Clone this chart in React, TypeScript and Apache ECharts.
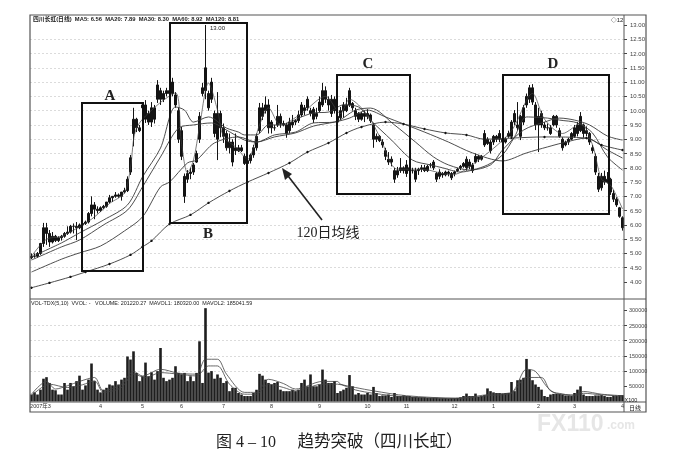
import React, { useEffect, useRef } from "react";
import * as echarts from "echarts";

const chartTitle = "四川长虹(日线)  MA5: 6.56  MA20: 7.89  MA30: 8.30  MA60: 8.92  MA120: 8.81";
const volumeTitle = "VOL-TDX(5,10)  VVOL: -   VOLUME: 201220.27  MAVOL1: 180320.00  MAVOL2: 185041.59";
const captionNumber = "图 4 – 10";
const captionText = "趋势突破（四川长虹）";
const maLabel = "120日均线";

const monthMarks: [number, string][] = [
  [3, "2007年3"], [23, "4"], [37, "5"], [50, "6"], [64, "7"], [80, "8"], [96, "9"],
  [112, "10"], [125, "11"], [141, "12"], [154, "1"], [169, "2"], [181, "3"], [197, "4"],
];

const opens = [
  4.85,4.9,4.9,5.0,5.35,5.9,5.7,5.4,5.6,5.45,
  5.55,5.6,5.7,5.75,5.95,5.95,5.9,6.0,6.05,6.1,
  6.4,6.7,6.55,6.5,6.6,6.65,6.8,6.95,7.0,7.05,
  7.0,7.15,7.2,7.85,9.2,9.7,9.4,10.1,10.2,9.9,
  9.6,10.1,10.4,10.7,10.4,10.6,10.7,10.6,10.55,10.0,
  9.3,7.7,7.6,7.8,7.85,8.2,9.0,10.6,10.7,10.1,
  11.0,9.9,9.0,9.9,9.4,9.2,8.7,8.9,8.6,8.7,
  8.6,8.4,8.15,8.25,8.45,8.7,9.3,10.1,10.0,10.2,
  9.6,9.4,9.5,9.8,9.55,9.5,9.3,9.5,9.6,9.65,
  9.85,10.1,10.1,10.0,10.05,9.8,10.0,10.2,10.7,10.4,
  9.9,10.4,9.8,9.75,10.2,10.0,10.2,10.25,10.0,9.9,
  9.7,9.9,9.8,9.85,9.5,9.0,9.1,8.9,8.6,8.2,
  8.3,7.9,7.75,7.9,8.0,7.8,8.0,7.9,7.9,7.9,
  7.95,8.0,7.9,8.1,8.0,7.8,7.7,7.8,7.75,7.85,
  7.8,7.8,7.9,8.0,8.05,8.0,8.2,8.1,8.2,8.4,
  8.3,8.8,9.0,8.9,8.9,9.1,9.0,9.0,8.9,9.1,
  9.1,9.6,9.4,9.8,9.6,10.2,10.4,10.8,10.2,9.8,
  9.5,9.5,9.4,9.2,9.5,9.8,9.3,9.0,8.8,8.9,
  9.0,9.1,9.5,9.3,9.5,9.2,9.2,8.7,8.4,7.7,
  7.3,7.7,7.5,7.6,7.1,6.9,6.6,6.25,
];
const closes = [
  4.9,4.9,5.0,5.35,5.9,5.7,5.4,5.6,5.45,5.55,
  5.6,5.7,5.75,5.95,5.95,5.9,6.0,6.05,6.1,6.4,
  6.7,6.55,6.5,6.6,6.65,6.8,6.95,7.0,7.05,7.0,
  7.15,7.2,7.6,8.35,9.7,9.4,9.3,10.2,9.7,9.6,
  10.1,9.7,10.9,10.4,10.6,10.7,10.6,11.0,10.2,9.0,
  8.4,7.0,7.8,7.85,8.1,8.5,9.8,10.8,11.5,10.6,
  10.4,9.2,9.9,9.4,9.1,8.7,8.9,8.2,8.7,8.6,
  8.7,8.15,8.25,8.45,8.7,9.1,10.1,9.8,10.2,9.4,
  9.4,9.4,9.8,9.55,9.5,9.2,9.6,9.6,9.65,9.85,
  10.2,10.0,10.4,9.9,9.7,9.9,10.3,10.7,10.4,10.2,
  10.4,10.0,9.6,10.0,10.0,10.2,10.7,10.1,9.8,9.7,
  9.9,9.8,9.9,9.65,9.0,9.1,8.95,8.8,8.4,8.3,
  8.2,7.6,7.9,8.0,7.9,8.1,7.9,7.9,7.6,7.95,
  8.0,7.9,8.05,8.1,8.2,7.6,7.85,7.75,7.85,7.8,
  7.65,7.85,7.95,8.05,8.15,8.3,8.05,7.9,8.4,8.3,
  8.4,9.2,8.85,8.6,9.1,9.0,9.2,8.9,9.0,9.2,
  9.6,9.9,9.5,9.1,10.1,10.5,10.8,10.3,9.5,9.5,
  9.9,9.4,9.4,9.4,9.8,9.5,9.1,8.7,8.9,9.0,
  9.2,9.4,9.2,9.8,9.2,9.3,8.9,8.6,7.85,7.25,
  7.7,7.5,7.6,7.15,6.9,6.7,6.3,5.9,
];
const lows = [
  4.8,4.85,4.85,4.95,5.23,5.3,5.23,5.35,5.4,5.4,
  5.45,5.55,5.65,5.7,5.7,5.47,5.85,5.95,6.0,6.05,
  6.3,6.2,6.4,6.45,6.55,6.6,6.75,6.8,6.95,6.95,
  6.85,7.1,7.15,7.75,8.75,9.25,9.25,8.97,9.57,9.5,
  9.43,9.55,10.27,10.2,10.3,10.5,10.55,10.5,10.1,8.87,
  8.27,6.77,7.47,7.6,7.75,8.17,8.87,10.5,10.4,10.0,
  10.27,9.07,8.27,9.07,8.87,8.6,8.5,8.05,8.45,8.55,
  8.55,8.1,8.03,8.15,8.35,8.6,9.2,9.67,9.9,9.2,
  9.2,9.3,9.43,9.4,9.45,9.05,9.2,9.4,9.5,9.57,
  9.78,9.85,10.0,9.8,9.57,9.7,9.95,10.13,10.27,10.0,
  9.78,9.9,9.43,9.67,9.75,9.95,10.13,10.0,9.67,9.6,
  9.65,9.6,9.7,9.57,8.7,8.9,8.9,8.7,8.27,8.1,
  8.05,7.47,7.65,7.82,7.8,7.68,7.8,7.8,7.5,7.75,
  7.85,7.85,7.85,8.0,7.92,7.5,7.6,7.65,7.7,7.7,
  7.57,7.7,7.85,7.92,8.0,7.9,7.95,7.82,8.15,8.2,
  8.25,8.73,8.8,8.5,8.8,8.9,8.9,8.85,8.85,9.05,
  9.05,9.5,9.32,8.97,9.5,10.1,10.27,10.2,9.32,8.55,
  9.4,9.32,9.3,9.15,9.45,9.4,9.05,8.6,8.75,8.8,
  8.97,9.05,9.1,9.25,9.05,9.1,8.8,8.5,7.75,7.15,
  7.2,7.4,7.45,7.05,6.8,6.63,6.25,5.8,
];
const highs = [
  5.0,5.0,5.05,5.37,6.07,6.07,5.82,5.75,5.65,5.6,
  5.65,5.75,5.95,6.0,6.05,6.1,6.05,6.0,6.15,6.45,
  7.0,6.8,6.65,6.65,6.7,6.75,7.05,7.0,7.15,7.1,
  7.1,7.3,7.7,8.45,10.1,9.75,9.5,10.3,10.37,10.0,
  10.3,10.2,11.07,10.8,10.7,10.8,10.8,11.15,10.65,10.1,
  9.43,7.8,7.92,8.0,8.17,8.6,9.95,10.97,13.0,10.7,
  11.15,10.0,10.65,10.0,9.55,9.3,9.2,9.0,9.2,8.8,
  8.8,8.5,8.45,8.5,8.8,9.2,10.27,10.27,10.5,10.4,
  9.67,9.5,10.2,9.9,9.65,9.57,9.75,9.85,9.7,10.0,
  10.3,10.2,10.5,10.1,10.13,10.1,10.5,10.97,10.85,10.5,
  10.55,10.5,9.9,10.13,10.3,10.45,10.8,10.3,10.1,9.95,
  9.95,10.0,10.05,9.9,9.57,9.2,9.15,9.0,8.7,8.55,
  8.4,8.0,8.03,8.34,8.05,8.27,8.1,8.0,8.0,8.0,
  8.1,8.1,8.1,8.17,8.27,7.85,7.95,7.85,7.9,7.9,
  7.85,7.9,8.0,8.1,8.2,8.4,8.3,8.17,8.5,8.45,
  8.45,9.32,9.07,8.97,9.15,9.15,9.32,9.07,9.07,9.3,
  9.67,10.02,10.3,9.85,10.2,10.6,10.9,10.93,10.3,10.1,
  10.0,9.6,9.55,9.5,9.85,9.85,9.4,9.07,8.95,9.05,
  9.25,9.5,9.6,9.95,9.55,9.45,9.25,8.8,8.5,7.82,
  7.82,7.9,7.85,7.65,7.22,6.97,6.63,6.3,
];

const ma5: [number, number][] = [
  [0,4.9],[5,5.5],[10,5.6],[20,6.2],[26,6.75],[31,7.12],[33,8.0],[35,9.39],[42,10.2],[48,10.62],
  [50,8.87],[52,7.82],[54,8.27],[56,9.43],[59,10.97],[62,10.02],[64,9.08],[68,8.73],[72,8.3],
  [76,9.5],[79,10.1],[83,9.5],[90,9.9],[98,10.5],[103,9.9],[106,10.4],[112,9.85],[116,9.1],
  [122,7.95],[130,7.95],[140,7.75],[150,8.35],[160,9.3],[167,10.6],[171,9.7],[177,9.2],[183,9.55],
  [187,8.8],[190,7.6],[193,7.4],[197,6.56],
];
const ma20: [number, number][] = [
  [0,4.88],[10,5.37],[16,5.72],[24,6.17],[32,6.7],[37,7.68],[43,8.69],[48,10.13],[51,10.02],[54,9.6],
  [59,9.78],[65,9.39],[69,9.25],[71,9.15],[75,9.15],[79,9.5],[84,9.5],[89,9.74],[94,9.92],[99,9.95],
  [104,10.2],[109,10.13],[113,9.67],[120,8.97],[127,8.27],[133,8.1],[137,8.0],[143,7.85],[147,7.92],
  [152,8.1],[157,8.45],[161,9.08],[165,9.78],[172,9.74],[176,9.67],[182,9.57],[187,9.22],[192,8.38],[197,7.92],
];
const ma30: [number, number][] = [
  [0,4.77],[10,5.23],[16,5.47],[24,6.0],[32,6.52],[37,7.33],[43,8.38],[49,9.39],[54,9.5],[60,9.57],
  [65,9.32],[71,8.97],[75,8.9],[81,9.15],[88,9.25],[94,9.57],[101,9.6],[108,10.02],[113,10.09],[121,9.5],
  [128,8.9],[134,8.38],[139,8.1],[146,7.92],[153,8.1],[157,8.62],[164,9.32],[171,9.6],[176,9.74],
  [181,9.67],[186,9.5],[192,9.11],[197,8.97],
];
const ma60: [number, number][] = [
  [0,4.35],[10,4.8],[16,5.02],[23,5.26],[31,5.79],[37,6.28],[43,7.33],[46,7.5],[52,8.17],[55,8.27],
  [61,8.87],[69,9.08],[75,8.9],[81,9.08],[88,9.22],[94,9.46],[101,9.6],[106,9.74],[112,10.02],[118,9.78],
  [131,9.25],[139,8.9],[147,8.52],[157,8.24],[165,8.52],[172,8.73],[177,8.87],[185,9.04],[192,8.62],[197,8.34],
];
const ma120: [number, number][] = [
  [0,3.8],[6,3.97],[13,4.18],[18,4.35],[26,4.63],[33,4.95],[37,5.23],[40,5.44],[46,6.03],[53,6.35],
  [59,6.77],[66,7.19],[72,7.5],[79,7.82],[86,8.17],[92,8.55],[99,8.87],[105,9.22],[110,9.43],[118,9.6],
  [124,9.53],[131,9.36],[138,9.22],[145,9.15],[151,9.0],[160,9.04],[171,9.08],[185,9.04],[190,8.8],[197,8.62],
];

const volumesK = [
  23,30,23,39,75,80,61,39,37,23,
  23,61,39,61,50,67,85,39,53,72,
  125,67,39,30,39,45,56,53,67,56,
  72,78,148,138,165,94,67,83,128,83,
  96,72,100,176,78,67,72,78,116,94,
  89,94,67,83,67,94,198,61,307,95,
  100,75,89,78,61,67,34,45,45,28,
  23,18,18,18,28,39,91,85,72,61,
  56,61,64,39,34,34,34,39,34,39,
  61,72,50,89,50,50,56,105,72,61,
  61,67,28,34,39,45,87,50,23,28,
  23,23,28,23,48,28,18,20,20,23,
  15,28,18,18,20,18,18,15,15,14,
  14,14,12,12,12,12,11,11,11,10,
  11,11,12,14,18,26,18,18,26,15,
  18,21,43,34,30,28,28,26,28,28,
  64,34,70,72,78,140,105,70,56,48,
  39,18,15,23,25,25,25,23,20,20,
  18,28,39,50,23,18,18,18,20,20,
  21,18,15,15,18,18,21,21,
];
const mavol1K: [number, number][] = [
  [0,24],[5,66],[8,41],[12,52],[16,66],[21,79],[24,35],[30,57],[34,99],[37,84],[43,106],[49,93],[55,90],
  [58,139],[62,139],[65,90],[71,30],[75,30],[79,73],[84,59],[88,41],[97,66],[102,66],[103,57],[108,46],
  [114,35],[125,19],[142,11],[153,24],[160,30],[165,106],[168,99],[172,46],[175,26],[181,22],[184,33],[190,24],[197,19],
];
const mavol2K: [number, number][] = [
  [0,19],[6,57],[12,46],[17,55],[21,68],[24,30],[30,46],[34,90],[38,79],[43,95],[49,90],[55,84],
  [59,117],[62,117],[66,57],[71,24],[75,24],[79,57],[84,46],[88,35],[97,57],[102,57],[108,38],
  [114,27],[125,15],[142,10],[153,20],[160,27],[165,79],[170,79],[173,35],[177,25],[181,19],[184,27],[190,22],[197,18],
];

const priceTicks = [4, 4.5, 5, 5.5, 6, 6.5, 7, 7.5, 8, 8.5, 9, 9.5, 10, 10.5, 11, 11.5, 12, 12.5, 13];
const volumeTicks = [50000, 100000, 150000, 200000, 250000, 300000];

const INK = "#141414";
const LINE = "#3a3a3a";
const SERIF = '"Liberation Serif", "Noto Sans CJK SC", serif';
const SANS = '"Liberation Sans", "Noto Sans CJK SC", sans-serif';

function box(x: number, y: number, width: number, height: number) {
  return { type: "rect", shape: { x, y, width, height }, style: { fill: "none", stroke: "#111", lineWidth: 2 }, z: 20, silent: true };
}
function txt(x: number, y: number, text: string, size: number, extra: Record<string, unknown> = {}) {
  return {
    type: "text", x, y, z: 21, silent: true,
    style: { text, fontSize: size, fontFamily: SERIF, fill: "#222", textAlign: "center", textVerticalAlign: "middle", ...extra },
  };
}
function rule(x1: number, y1: number, x2: number, y2: number, lw = 1) {
  return { type: "line", shape: { x1, y1, x2, y2 }, style: { stroke: "#555", lineWidth: lw }, z: 19, silent: true };
}

export default function App() {
  const ref = useRef<HTMLDivElement>(null);
  useEffect(() => {
    const chart = echarts.init(ref.current!, undefined, { renderer: "svg" });
    const categories = opens.map((_, i) => {
      const m = monthMarks.find((k) => k[0] === i);
      return m ? m[1] : "";
    });
    const candle = opens.map((o, i) => [o, closes[i], lows[i], highs[i]]);
    const maLine = (name: string, data: [number, number][], extra = {}) => ({
      name, type: "line", data, xAxisIndex: 0, yAxisIndex: 0, symbol: "none", z: 5, smooth: 0.3,
      lineStyle: { color: LINE, width: 0.9 }, itemStyle: { color: INK }, ...extra,
    });
    const volLine = (name: string, data: [number, number][], w: number) => ({
      name, type: "line", data: data.map(([i, v]) => [i, v * 1000]), xAxisIndex: 1, yAxisIndex: 1,
      symbol: "none", z: 5, smooth: 0.3, lineStyle: { color: "#444", width: w },
    });
    const dotted = { color: "#d2d2d2", type: [2, 2], width: 0.8 };
    chart.setOption({
      animation: false,
      backgroundColor: "#fff",
      grid: [
        { left: 30, width: 594, top: 10.7, height: 285.6 },
        { left: 30, width: 594, top: 295.1, height: 106.4 },
      ],
      xAxis: [
        { type: "category", gridIndex: 0, data: categories, show: false, boundaryGap: true },
        {
          type: "category", gridIndex: 1, data: categories, boundaryGap: true,
          axisLine: { show: false },
          axisTick: { show: false },
          axisLabel: {
            interval: (i: number) => categories[i] !== "",
            fontSize: 5.5, color: "#333", margin: 2, fontFamily: SANS, hideOverlap: false,
          },
        },
      ],
      yAxis: [
        {
          type: "value", gridIndex: 0, position: "right", min: 3.5, max: 13.5, interval: 0.5,
          axisLine: { show: false },
          axisTick: { show: true, customValues: priceTicks, length: 3, lineStyle: { color: "#444" } },
          axisLabel: { customValues: priceTicks, formatter: (v: number) => v.toFixed(2), fontSize: 6, color: "#444", margin: 6, fontFamily: SANS },
          splitLine: { show: true, showMinLine: false, showMaxLine: false, lineStyle: dotted },
        },
        {
          type: "value", gridIndex: 1, position: "right", min: 0, max: 350000, interval: 50000,
          axisLine: { show: false },
          axisTick: { show: true, customValues: volumeTicks, length: 3, lineStyle: { color: "#444" } },
          axisLabel: { customValues: volumeTicks, formatter: (v: number) => String(v), fontSize: 5.5, color: "#444", margin: 5, fontFamily: SANS },
          splitLine: { show: true, showMinLine: false, showMaxLine: false, lineStyle: dotted },
        },
      ],
      series: [
        {
          name: "K", type: "candlestick", data: candle, xAxisIndex: 0, yAxisIndex: 0, barWidth: 2, z: 4,
          itemStyle: { color: INK, color0: INK, borderColor: INK, borderColor0: INK, borderWidth: 1 },
        },
        maLine("MA5", ma5, { lineStyle: { color: "#444", width: 0.7 } }),
        maLine("MA20", ma20),
        maLine("MA30", ma30),
        maLine("MA60", ma60),
        maLine("MA120", ma120, { symbol: "circle", symbolSize: 2.4, showSymbol: true, showAllSymbol: true }),
        {
          name: "VOL", type: "bar", data: volumesK.map((v) => v * 1000), xAxisIndex: 1, yAxisIndex: 1,
          barWidth: 2.6, z: 4, itemStyle: { color: "#1e1e1e" },
        },
        volLine("MAVOL1", mavol1K, 0.8),
        volLine("MAVOL2", mavol2K, 0.8),
      ],
      graphic: [
        { type: "rect", shape: { x: 30, y: 15, width: 616, height: 397 }, style: { fill: "none", stroke: "#555", lineWidth: 1.2 }, z: 19, silent: true },
        rule(30, 299, 646, 299),
        rule(30, 402, 646, 402),
        rule(624, 15, 624, 412),
        box(82, 103, 61, 168),
        box(170, 23, 77, 200),
        box(337, 75, 73, 119),
        box(503, 75, 106, 139),
        txt(110, 95, "A", 15, { fontWeight: "bold" }),
        txt(208, 233, "B", 15, { fontWeight: "bold" }),
        txt(368, 63, "C", 15, { fontWeight: "bold" }),
        txt(553, 63, "D", 15, { fontWeight: "bold" }),
        txt(328, 232, maLabel, 14),
        { type: "line", shape: { x1: 322, y1: 220, x2: 285, y2: 172 }, style: { stroke: "#222", lineWidth: 1.6 }, z: 20, silent: true },
        { type: "polygon", shape: { points: [[282, 168], [292, 174], [285, 180]] }, style: { fill: "#222" }, z: 20, silent: true },
        txt(246, 441, captionNumber, 16),
        txt(380, 441, captionText, 16.5),
        txt(33, 19, chartTitle, 5.8, { textAlign: "left", fontFamily: SANS, fontWeight: "bold" }),
        txt(31, 302.5, volumeTitle, 5.4, { textAlign: "left", fontFamily: SANS }),
        txt(210, 28, "13.00", 6, { textAlign: "left", fontFamily: SANS }),
        txt(617, 20, "◇12", 6, { fontFamily: SANS }),
        txt(631, 400, "X100", 5.5, { fontFamily: SANS }),
        txt(635, 407.5, "日线", 6, { fontFamily: SANS }),
        txt(537, 423, "FX110", 23, { textAlign: "left", fontFamily: SANS, fontWeight: "bold", fill: "#e6e6e6" }),
        txt(607, 425, ".com", 12, { textAlign: "left", fontFamily: SANS, fill: "#e6e6e6", fontWeight: "bold" }),
      ],
    });
    return () => chart.dispose();
  }, []);
  return (
    <div
      ref={ref}
      style={{ position: "absolute", left: 0, top: 0, width: 676, height: 464, filter: "blur(0.35px)" }}
    />
  );
}
